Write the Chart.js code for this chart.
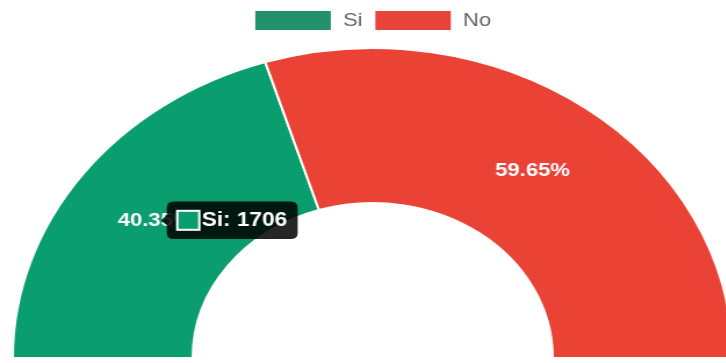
<!DOCTYPE html>
<html>
<head>
<meta charset="utf-8">
<title>Si / No</title>
<script src="https://cdn.jsdelivr.net/npm/chart.js@4.4.1/dist/chart.umd.min.js"></script>
<style>
  html, body { margin: 0; padding: 0; background: #fff; overflow: hidden; }
  #chart-wrap { width: 726px; height: 363px; overflow: hidden; }
  /* the gauge is drawn a bit wider than tall */
  #answers { transform: scaleX(1.161); transform-origin: 0 0; }
</style>
</head>
<body>
<div id="chart-wrap"><canvas id="answers" width="642" height="363"></canvas></div>
<script>
const answerLabels = ['Si', 'No'];
const answerCounts = [1706, 2522];
const sliceColors = ['#0a9e6e', '#ea4335'];
const legendColors = ['#22906b', '#e8433a'];

Chart.defaults.font.family = "'Liberation Sans', Arial, Helvetica, sans-serif";

// white percentage text in the middle of every slice
const percentLabels = {
  id: 'percentLabels',
  afterDatasetsDraw(chart) {
    const ctx = chart.ctx;
    const meta = chart.getDatasetMeta(0);
    const values = chart.data.datasets[0].data;
    const total = values.reduce((sum, v) => sum + v, 0);

    ctx.save();
    ctx.fillStyle = '#fff';
    ctx.font = "bold 19px 'Liberation Sans', Arial, sans-serif";
    ctx.textAlign = 'center';
    ctx.textBaseline = 'middle';
    meta.data.forEach((arc, i) => {
      const pos = arc.tooltipPosition();
      const pct = (values[i] / total * 100).toFixed(2) + '%';
      ctx.fillText(pct, pos.x, pos.y);
    });
    ctx.restore();
  }
};

// leave a little more room under the legend
const legendSpacing = {
  id: 'legendSpacing',
  beforeInit(chart) {
    const fit = chart.legend.fit;
    chart.legend.fit = function() {
      fit.call(this);
      this.height += 6;
    };
  }
};

const chart = new Chart(document.getElementById('answers'), {
  type: 'doughnut',
  data: {
    labels: answerLabels,
    datasets: [{
      data: answerCounts,
      backgroundColor: sliceColors,
      borderColor: '#fff',
      borderWidth: 2,
      hoverOffset: 0
    }]
  },
  options: {
    responsive: false,
    animation: false,
    events: [],
    rotation: -90,
    circumference: 180,
    radius: 310,
    cutout: '50%',
    layout: { padding: { bottom: 4 } },
    plugins: {
      legend: {
        position: 'top',
        labels: {
          boxWidth: 67,
          boxHeight: 21,
          padding: 10,
          color: '#666',
          font: { size: 19 },
          generateLabels(chart) {
            const items = Chart.overrides.doughnut.plugins.legend.labels.generateLabels(chart);
            items.forEach((item, i) => { item.fillStyle = legendColors[i]; });
            return items;
          }
        }
      },
      tooltip: {
        backgroundColor: 'rgba(0, 0, 0, 0.85)',
        padding: { x: 9, y: 7 },
        caretPadding: 5,
        cornerRadius: 6,
        bodyFont: { size: 19.5, weight: 'bold' },
        boxWidth: 19,
        boxHeight: 19,
        callbacks: {
          title: () => '',
          label: (item) => item.label + ': ' + item.raw
        }
      }
    }
  },
  plugins: [percentLabels, legendSpacing]
});

// keep the tooltip for "Si" on screen
chart.tooltip.setActiveElements([{ datasetIndex: 0, index: 0 }], { x: 0, y: 0 });
chart.update();
</script>
</body>
</html>
